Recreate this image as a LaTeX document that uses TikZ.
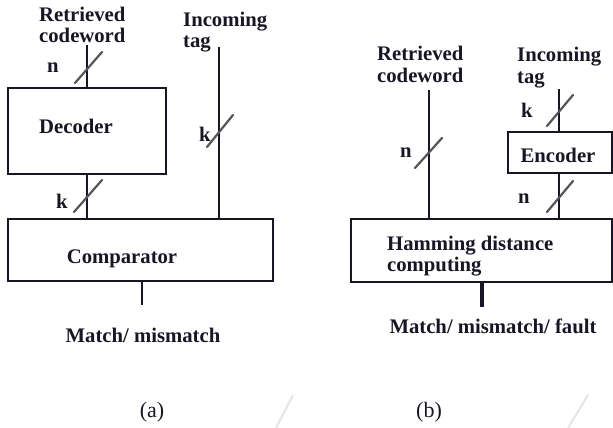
\documentclass[tikz,border=0pt]{standalone}
\usepackage{fontspec}
\setmainfont{Liberation Serif}
\definecolor{ink}{RGB}{22,22,36}
\definecolor{slashgray}{RGB}{85,85,85}
\begin{document}
\begin{tikzpicture}[x=1pt,y=-1pt,
  blockbox/.style={draw=ink,line width=2.4pt,fill=white,inner sep=0pt},
  wire/.style={draw=ink,line width=2.8pt},
  buswidth/.style={draw=slashgray,line width=2.2pt,line cap=round},
  lbl/.style={font=\fontsize{20.7}{21}\selectfont\bfseries,text=ink,inner sep=0pt,align=left},
  subcaption/.style={font=\fontsize{22}{24}\selectfont,text=ink,inner sep=0pt},
  faint/.style={draw=black!10,line width=2pt}]
\useasboundingbox (0,0) rectangle (613,428);

% ---------------- (a) ----------------
\node[blockbox,minimum width=158pt,minimum height=86pt] (dec) at (87,131) {};
\node[lbl,anchor=base] (dect) at (76,133) {Decoder};
\node[blockbox,minimum width=265pt,minimum height=62pt] (cmp) at (140.5,250) {};
\node[lbl,anchor=base] (cmpt) at (122,263) {Comparator};

% two-line labels: anchor sits on the baseline of the last line
\node[lbl,anchor=base west] (rcA) at (39,43) {Retrieved\\codeword};
\node[lbl,anchor=base west] (itA) at (183,48) {Incoming\\tag};

\coordinate (rcAend) at (dec.north |- 0,45);
\coordinate (itAend) at (219,47);
\coordinate (outA) at (142,305);

\draw[wire] (rcAend) -- (dec.north);
\draw[wire] (dec.south) -- (dec.south |- cmp.north);
\draw[wire] (itAend) -- (itAend |- cmp.north);
\draw[draw=ink,line width=2pt] (cmp.south -| outA) -- (outA);

% bus-width marks
\coordinate (sA1a) at (75,83);  \coordinate (sA1b) at (102,52);
\coordinate (sA2a) at (207,147);\coordinate (sA2b) at (233,115);
\coordinate (sA3a) at (74,212); \coordinate (sA3b) at (102,180);
\draw[buswidth] (sA1a) -- (sA1b);
\draw[buswidth] (sA2a) -- (sA2b);
\draw[buswidth] (sA3a) -- (sA3b);
\node[lbl,anchor=base west] (nA1) at (47,73) {n};
\node[lbl,anchor=base west] (kA2) at (199,141) {k};
\node[lbl,anchor=base west] (kA3) at (56,208) {k};

\node[lbl,anchor=base] (mmA) at (143,342) {Match/ mismatch};
\node[subcaption,anchor=base] (capA) at (152,417) {(a)};

% ---------------- (b) ----------------
\node[blockbox,minimum width=104pt,minimum height=41pt] (enc) at (560,152.5) {};
\node[lbl,anchor=base] (enct) at (558,162) {Encoder};
\node[blockbox,minimum width=261pt,minimum height=63pt] (ham) at (481.5,250.5) {};
\node[lbl,anchor=base west] (hamt) at (387,271) {Hamming distance\\computing};

\node[lbl,anchor=base west] (rcB) at (377,82) {Retrieved\\codeword};
\node[lbl,anchor=base west] (itB) at (517,83) {Incoming\\tag};

\coordinate (rcBend) at (429,90);
\coordinate (itBend) at (559,89);
\coordinate (outB) at (482,307);

\draw[wire] (rcBend) -- (rcBend |- ham.north);
\draw[wire] (itBend) -- (itBend |- enc.north);
\draw[wire] (itBend |- enc.south) -- (itBend |- ham.north);
\draw[draw=ink,line width=3.4pt] (ham.south -| outB) -- (outB);

\coordinate (sB1a) at (415,168); \coordinate (sB1b) at (442,138);
\coordinate (sB2a) at (547,126); \coordinate (sB2b) at (573,95);
\coordinate (sB3a) at (547,212); \coordinate (sB3b) at (573,181);
\draw[buswidth] (sB1a) -- (sB1b);
\draw[buswidth] (sB2a) -- (sB2b);
\draw[buswidth] (sB3a) -- (sB3b);
\node[lbl,anchor=base west] (nB1) at (400,157) {n};
\node[lbl,anchor=base west] (kB2) at (521,117) {k};
\node[lbl,anchor=base west] (nB3) at (518,203) {n};

\node[lbl,anchor=base] (mmB) at (493,333) {Match/ mismatch/ fault};
\node[subcaption,anchor=base] (capB) at (429,417) {(b)};

% light diagonal marks along the bottom edge
\coordinate (f1a) at (276,428); \coordinate (f1b) at (293,395);
\coordinate (f3a) at (568,428); \coordinate (f3b) at (588,395);
\draw[faint] (f1a) -- (f1b);
\draw[faint] (f3a) -- (f3b);
\end{tikzpicture}
\end{document}
